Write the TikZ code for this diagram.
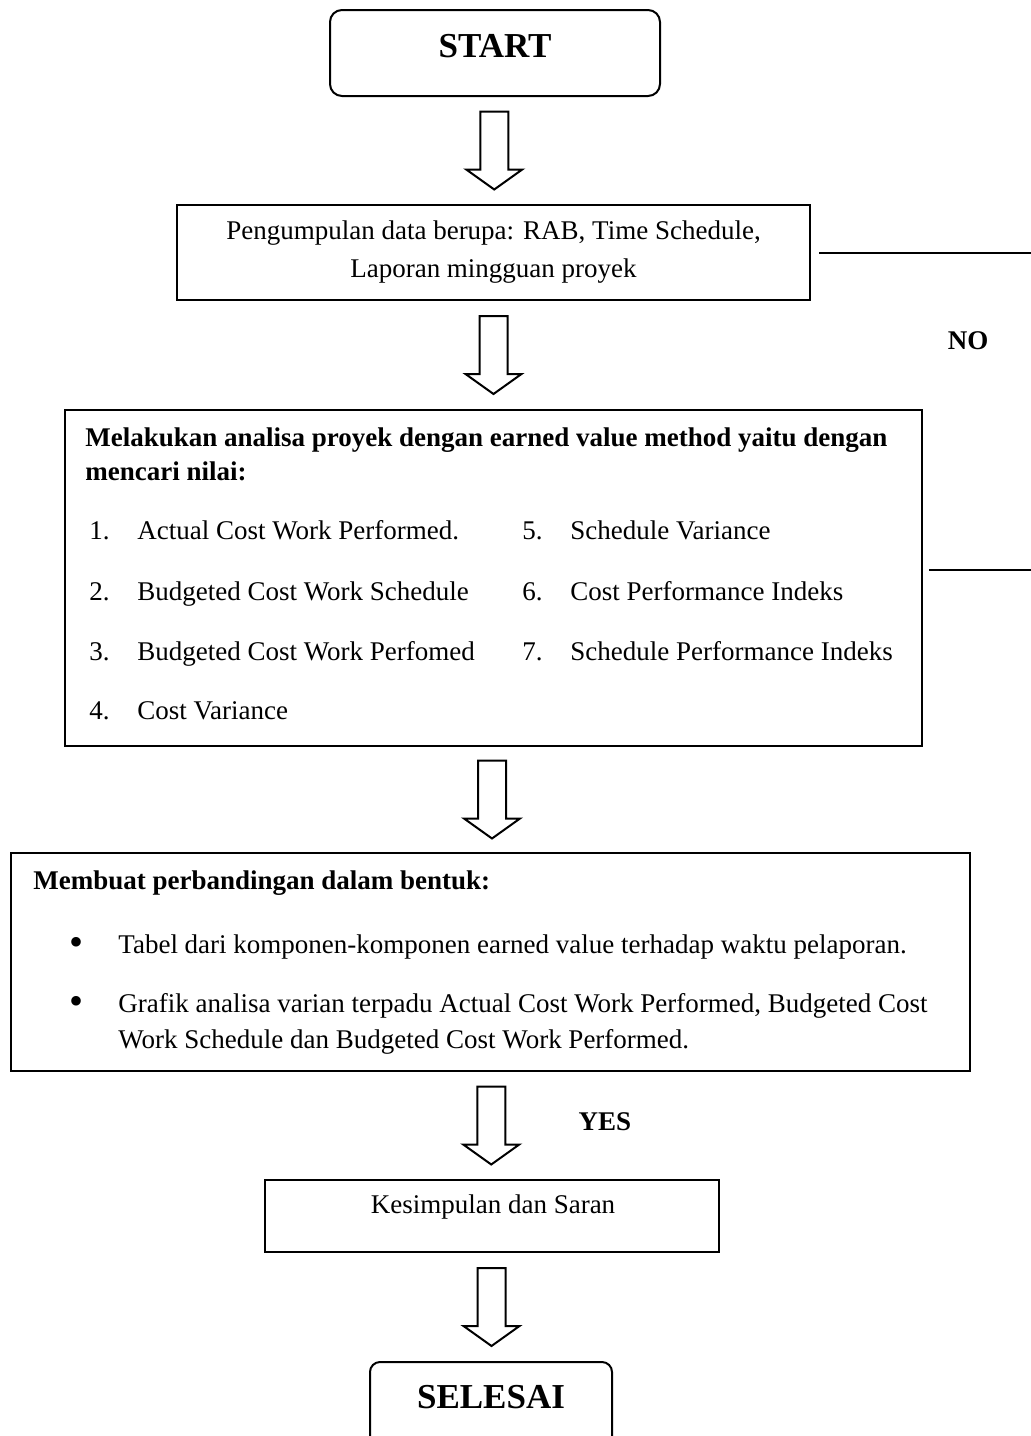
\documentclass[tikz,border=0pt]{standalone}
\usepackage{fontspec}
\setmainfont{Liberation Serif}
\usetikzlibrary{calc}

\tikzset{
  flowbox/.style={draw, line width=1pt, inner sep=0pt},
  termbox/.style={flowbox, rounded corners=6pt},
  txt/.style={inner sep=0pt, font=\fontsize{13.5}{19}\selectfont},
  btxt/.style={inner sep=0pt, font=\fontsize{13.5}{19}\selectfont\bfseries},
  bigtxt/.style={inner sep=0pt, font=\fontsize{17.5}{20}\selectfont\bfseries},
  bullettxt/.style={inner sep=0pt, font=\fontsize{20}{20}\selectfont},
  bigarrow/.style={line width=1pt, to path={
      let \p1=($(\tikztostart)!0.5!(\tikztotarget)$) in
      (\x1-7pt,\y1+19.5pt) -- (\x1-7pt,\y1-9.5pt) -- (\x1-14pt,\y1-9.5pt)
      -- (\x1,\y1-19.5pt) -- (\x1+14pt,\y1-9.5pt) -- (\x1+7pt,\y1-9.5pt)
      -- (\x1+7pt,\y1+19.5pt) -- cycle}}
}

\begin{document}
\begin{tikzpicture}[x=0.5pt, y=-0.5pt]
    \clip (0,0) rectangle (1031,1436);

    % start
    \node (start) [termbox, minimum width=165pt, minimum height=43pt] at (495,53) {};
    \node (startlbl) [bigtxt, anchor=base] at (495,57) {START};

    % data collection
    \node (collect) [flowbox, txt, align=center, minimum width=316.5pt, minimum height=47.5pt]
        at (493.5,252.5) {Pengumpulan data berupa: RAB, Time Schedule,\\Laporan mingguan proyek};

    % analysis
    \node (analisa) [flowbox, minimum width=428.5pt, minimum height=168pt] at (493.5,578) {};
    \node (analisa1) [btxt, anchor=base west] at (85,446) {Melakukan analisa proyek dengan earned value method yaitu dengan};
    \node (analisa2) [btxt, anchor=base west] at (85,480) {mencari nilai:};

    \foreach \y/\t [count=\n] in {539/Actual Cost Work Performed., 600/Budgeted Cost Work Schedule,
                                  660/Budgeted Cost Work Perfomed, 719/Cost Variance}
        { \node (numL\n) [txt, anchor=base east] at (110,\y) {\n.};
          \node (itemL\n) [txt, anchor=base west] at (137,\y) {\t}; }

    \foreach \y/\t [count=\n from 5] in {539/Schedule Variance, 600/Cost Performance Indeks,
                                         660/Schedule Performance Indeks}
        { \node (numR\n) [txt, anchor=base east] at (543,\y) {\n.};
          \node (itemR\n) [txt, anchor=base west] at (570,\y) {\t}; }

    % comparison
    \node (banding) [flowbox, minimum width=479.5pt, minimum height=109pt] at (490.5,962) {};
    \node (banding1) [btxt, anchor=base west] at (33,889) {Membuat perbandingan dalam bentuk:};
    \node (bulA) [bullettxt, anchor=base] at (77,955) {\textbullet};
    \node (tabel) [txt, anchor=base west] at (118,953) {Tabel dari komponen-komponen earned value terhadap waktu pelaporan.};
    \node (bulB) [bullettxt, anchor=base] at (77,1014) {\textbullet};
    \node (grafik1) [txt, anchor=base west] at (118,1012) {Grafik analisa varian terpadu Actual Cost Work Performed, Budgeted Cost};
    \node (grafik2) [txt, anchor=base west] at (118,1048) {Work Schedule dan Budgeted Cost Work Performed.};

    % conclusion and end
    \node (simpul) [flowbox, minimum width=227pt, minimum height=36pt] at (492,1216) {};
    \node (simpullbl) [txt, anchor=base] at (493,1213) {Kesimpulan dan Saran};
    \node (selesai) [termbox, rounded corners=5pt, minimum width=121pt, minimum height=42pt] at (491,1404) {};
    \node (selesailbl) [bigtxt, anchor=base] at (491,1408) {SELESAI};

    % decisions
    \node (no) [btxt, anchor=base] at (968,349) {NO};
    \node (yes) [btxt, anchor=base] at (605,1130) {YES};

    % hollow arrows
    \draw [bigarrow] (start.south) to (collect.north);
    \draw [bigarrow] (collect.south) to (analisa.north);
    \draw [bigarrow] (analisa.south) to (banding.north);
    \draw [bigarrow] (banding.south) to (simpul.north);
    \draw [bigarrow] (simpul.south) to (selesai.north);

    % feedback lines
    \coordinate (noA) at (1031,252.5);
    \coordinate (noB) at (1031,570);
    \draw [line width=1pt] (collect.east) ++(4pt,0) -- (noA);
    \draw [line width=1pt] (analisa.east |- noB) ++(3pt,0) -- (noB);

\end{tikzpicture}
\end{document}
